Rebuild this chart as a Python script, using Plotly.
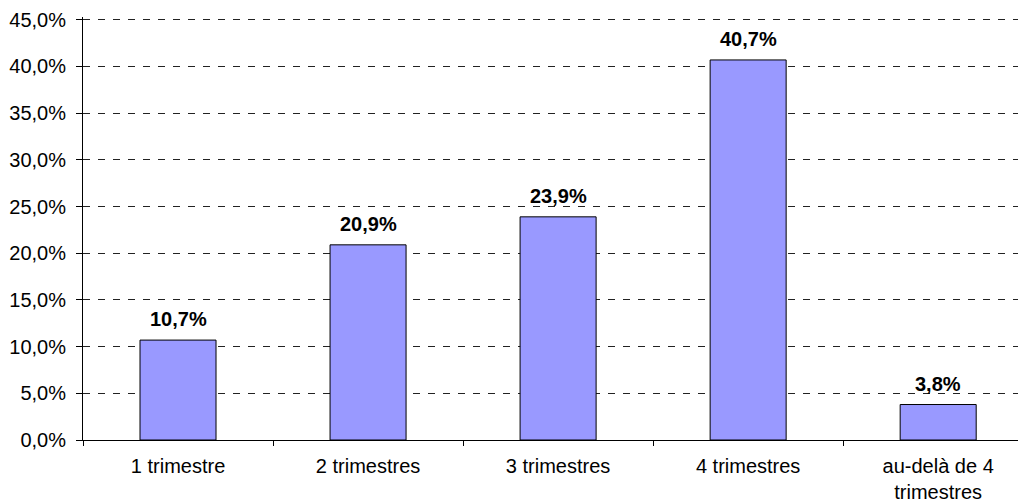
import plotly.graph_objects as go

categories = ["1 trimestre", "2 trimestres", "3 trimestres", "4 trimestres", "au-delà de 4<br>trimestres"]
values = [10.7, 20.9, 23.9, 40.7, 3.8]
y_ticks = [0, 5, 10, 15, 20, 25, 30, 35, 40, 45]
y_tick_labels = [f"{v:.1f}".replace(".", ",") + "%" for v in y_ticks]
bar_labels = [f"{v:.1f}".replace(".", ",") + "%" for v in values]

FONT = "Liberation Sans, Arial, sans-serif"

fig = go.Figure(go.Bar(
    x=categories, y=values, width=0.4,
    marker=dict(color="#9999FF", line=dict(color="#000000", width=1)),
))

for c, v, t in zip(categories, values, bar_labels):
    fig.add_annotation(
        x=c, y=v, text=f"<b>{t}</b>", showarrow=False,
        yanchor="bottom", yshift=8,
        font=dict(family=FONT, size=20, color="#000000"),
    )

fig.update_layout(
    width=1018, height=502,
    margin=dict(l=83, r=0, t=17, b=62),
    plot_bgcolor="white", paper_bgcolor="white",
    font=dict(family=FONT, size=20, color="#000000"),
    showlegend=False,
    xaxis=dict(
        type="category", range=[-0.5, 4.42], tickson="boundaries",
        ticks="outside", ticklen=5, tickcolor="#000000",
        showline=True, linecolor="#000000", linewidth=1,
        showgrid=False, tickfont=dict(size=20), ticklabelstandoff=8,
    ),
    yaxis=dict(
        range=[0, 45.3], tickvals=y_ticks, ticktext=y_tick_labels,
        ticks="outside", ticklen=6, tickcolor="#000000",
        showline=True, linecolor="#000000", linewidth=1,
        showgrid=True, gridcolor="#222222", gridwidth=1, griddash="7px,8px",
        zeroline=False, tickfont=dict(size=20), ticklabelstandoff=6,
    ),
)

fig.write_html("out.html")
